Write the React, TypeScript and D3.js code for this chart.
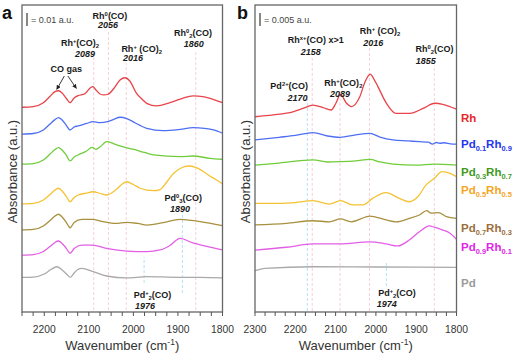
import React from "react";
import * as d3 from "d3";

type Pt = [number, number];

// ---------- Panel a data (absorbance in mAU, wavenumber in cm-1) ----------
const RH_A: Pt[] = [[2250,157.5],[2225,158],[2202,161],[2187,166],[2176,169.5],[2168,170.2],[2160,168.5],[2151,164.6],[2142,161],[2133,164.6],[2124,166.4],[2109,167.9],[2097,172.3],[2091,173.3],[2084,170.8],[2075,167.7],[2066,167],[2057,167.5],[2043,172.3],[2030,178.5],[2019,180.2],[2008,177.7],[1993,168.2],[1981,163.8],[1970,160.5],[1948,158.5],[1918,161],[1891,164.2],[1866,166.2],[1844,165.6],[1828,164.4],[1800,161]];
const PD01_A: Pt[] = [[2250,136.9],[2225,137.3],[2202,140],[2187,144.6],[2176,148],[2168,149.5],[2160,147.7],[2151,143.8],[2142,140],[2133,142.3],[2124,143.1],[2105,145],[2091,146.4],[2075,145.6],[2058,146.4],[2045,148],[2030,149.8],[2015,148.8],[2001,146.4],[1985,143.5],[1970,141.3],[1933,139.5],[1895,140.5],[1866,141.8],[1840,141.2],[1820,140],[1800,137.5]];
const PD03_A: Pt[] = [[2250,113.8],[2225,114.2],[2202,116.9],[2187,121.5],[2176,125],[2168,126.4],[2160,124.6],[2151,120.8],[2142,116.2],[2133,119.2],[2124,120.8],[2105,123.8],[2093,126.7],[2084,125.2],[2075,126.9],[2060,131],[2045,129.6],[2030,127.7],[2001,125.2],[1975,122.7],[1955,120.8],[1895,119.5],[1866,120],[1828,118.2],[1800,117.5]];
const PD05_A: Pt[] = [[2250,83.1],[2225,83.5],[2202,86.2],[2187,90.4],[2176,93.8],[2168,95.2],[2160,93.1],[2151,89.2],[2142,84.8],[2133,88.1],[2124,90],[2105,91.5],[2091,92.5],[2071,90.8],[2060,90],[2040,93.8],[2025,98.5],[2015,100.2],[2000,98.1],[1985,95.2],[1955,93.3],[1940,94.2],[1925,100],[1910,106.5],[1895,110.4],[1877,112.3],[1860,111.2],[1845,108.5],[1830,105],[1815,101.9],[1800,98.5]];
const PD07_A: Pt[] = [[2250,63.1],[2225,63.5],[2202,66.2],[2187,70.4],[2176,73.8],[2168,75.2],[2160,73.1],[2151,69.2],[2142,64.8],[2133,68.8],[2116,71.3],[2093,71.3],[2068,69.5],[2040,68.2],[2015,69],[1990,68.1],[1970,66.9],[1933,68.7],[1895,71.3],[1850,69.5],[1800,66.4]];
const PD09_A: Pt[] = [[2250,43.8],[2225,44.2],[2202,46.5],[2187,50.4],[2176,53.5],[2168,54.6],[2160,52.7],[2151,49.2],[2142,45.2],[2133,48.8],[2116,51.5],[2093,51.5],[2060,49],[2015,46.9],[1970,46.4],[1940,47.7],[1918,51.2],[1895,56.7],[1868,53.3],[1835,50.4],[1800,47.7]];
const PD_A: Pt[] = [[2250,26.7],[2225,26.9],[2200,29.2],[2185,32.7],[2172,34.8],[2160,32.3],[2150,29.2],[2142,26.7],[2133,30],[2125,32.7],[2116,33.6],[2090,31],[2060,27.7],[2015,26.2],[1970,27.2],[1900,26.7],[1850,26.7],[1800,26.2]];

// ---------- Panel b data ----------
const RH_B: Pt[] = [[2300,75.1],[2255,75.8],[2206,77],[2181,78.3],[2156,79.6],[2131,78.6],[2111,77.7],[2099,80.4],[2088,83.7],[2073,80.3],[2061,79],[2040,82.8],[2027,88.5],[2014,91.5],[2005,89.6],[1995,86.7],[1974,80.3],[1950,76.4],[1916,76.4],[1883,78.3],[1854,80.3],[1834,79.9],[1800,78]];
const PD01_B: Pt[] = [[2300,66.2],[2240,67.2],[2200,67.9],[2156,69],[2120,67.7],[2089,67.2],[2050,68.1],[2015,68.7],[1990,67.3],[1958,66.2],[1920,65.8],[1892,65.5],[1870,65.3],[1860,64.6],[1850,65.2],[1842,64.9],[1830,65.1],[1815,64.7],[1800,64.6]];
const PD03_B: Pt[] = [[2300,56.5],[2240,57.3],[2156,58.5],[2120,57.7],[2089,57.8],[2050,58.1],[2015,58.7],[1990,57.7],[1958,56.9],[1900,56.5],[1855,56.9],[1800,56.5]];
const PD05_B: Pt[] = [[2300,41.8],[2240,41.8],[2200,42.1],[2156,42.8],[2115,41.5],[2088,42.8],[2057,41.2],[2032,41.2],[2008,43.7],[1975,45.9],[1942,43.7],[1917,42.4],[1896,44.3],[1876,48.8],[1855,51.4],[1836,54],[1816,53.3],[1800,52]];
const PD07_B: Pt[] = [[2300,33.5],[2222,34.1],[2156,35.1],[2115,34.7],[2088,35.8],[2061,34.7],[2015,36.9],[1975,35.4],[1950,34.7],[1917,36],[1892,37.3],[1874,39],[1863,38],[1845,38.2],[1825,36.7],[1800,36]];
const PD09_B: Pt[] = [[2300,23.8],[2222,24.9],[2156,26.2],[2088,26.2],[2015,27],[1975,26.2],[1946,25.4],[1917,27.7],[1892,30.9],[1867,33.1],[1855,32.6],[1834,31.5],[1818,30.5],[1800,28]];
const PD_B: Pt[] = [[2300,15.9],[2275,16.8],[2156,17.4],[2000,17.3],[1800,17.2]];

const SERIES_A = [RH_A, PD01_A, PD03_A, PD05_A, PD07_A, PD09_A, PD_A];
const SERIES_B = [RH_B, PD01_B, PD03_B, PD05_B, PD07_B, PD09_B, PD_B];
const SERIES_NAMES = ["Rh", "Pd_{0.1}Rh_{0.9}", "Pd_{0.3}Rh_{0.7}", "Pd_{0.5}Rh_{0.5}", "Pd_{0.7}Rh_{0.3}", "Pd_{0.9}Rh_{0.1}", "Pd"];

const X_DOMAIN_A = [2250, 1800];
const X_DOMAIN_B = [2300, 1800];
const Y_MAX_A = 236.15; // mAU
const Y_MAX_B = 118.08;
const TICK_STEP = 25;
const TICK_LABELS_A = [2200, 2100, 2000, 1900, 1800];
const TICK_LABELS_B = [2300, 2200, 2100, 2000, 1900, 1800];
const SCALE_BAR_A = 10; // mAU = 0.01 a.u.
const SCALE_BAR_B = 5;  // mAU = 0.005 a.u.

// reference (dashed) lines: wavenumber, type, y range in mAU
const REF_A = [
  { wn: 2089, kind: "rh", y0: 1.5, y1: 196 },
  { wn: 2056, kind: "rh", y0: 1.5, y1: 217 },
  { wn: 2016, kind: "rh", y0: 1.5, y1: 191.5 },
  { wn: 1860, kind: "rh", y0: 1.5, y1: 201.5 },
  { wn: 1890, kind: "pd", y0: 14.6, y1: 76.9 },
  { wn: 1976, kind: "pd", y0: 22.3, y1: 42.3 },
];
const REF_B = [
  { wn: 2158, kind: "rh", y0: 0.4, y1: 98 },
  { wn: 2089, kind: "rh", y0: 0.4, y1: 82.3 },
  { wn: 2016, kind: "rh", y0: 0.4, y1: 102 },
  { wn: 1855, kind: "rh", y0: 0.4, y1: 95 },
  { wn: 2170, kind: "pd", y0: 0.4, y1: 82.3 },
  { wn: 1974, kind: "pd", y0: 10, y1: 19.2 },
];

// annotations: text, wavenumber (center), y in mAU (baseline), italic?
const ANN_A = [
  { t: "Rh^{0}(CO)", wn: 2052.5, v: 225.4, it: false },
  { t: "2056", wn: 2057, v: 218.1, it: true },
  { t: "Rh^{+}(CO)_{2}", wn: 2119.8, v: 204.6, it: false },
  { t: "2089", wn: 2108.6, v: 196.2, it: true },
  { t: "Rh^{+} (CO)_{2}", wn: 1981.3, v: 200, it: false },
  { t: "2016", wn: 2000.9, v: 193.1, it: true },
  { t: "Rh^{0}_{2}(CO)", wn: 1866.2, v: 212.3, it: false },
  { t: "1860", wn: 1864.6, v: 203.8, it: true },
  { t: "CO gas", wn: 2150.6, v: 184.6, it: false },
  { t: "Pd^{0}_{3}(CO)", wn: 1888, v: 85.4, it: false },
  { t: "1890", wn: 1895.4, v: 77.3, it: true },
  { t: "Pd^{+}_{2}(CO)", wn: 1957.1, v: 10.8, it: false },
  { t: "1976", wn: 1973.9, v: 2.3, it: true },
];
const ANN_B = [
  { t: "Rh^{x+}(CO) x>1", wn: 2149.1, v: 103.5, it: false },
  { t: "2158", wn: 2161.5, v: 98.8, it: true },
  { t: "Rh^{+} (CO)_{2}", wn: 1989.8, v: 106.9, it: false },
  { t: "2016", wn: 2006.5, v: 102.3, it: true },
  { t: "Rh^{0}_{2}(CO)", wn: 1854.6, v: 100, it: false },
  { t: "1855", wn: 1876.2, v: 95.4, it: true },
  { t: "Pd^{2+}(CO)", wn: 2215.1, v: 85.8, it: false },
  { t: "2170", wn: 2194.5, v: 81.2, it: true },
  { t: "Rh^{+}(CO)_{2}", wn: 2080.9, v: 86.9, it: false },
  { t: "2089", wn: 2089.1, v: 82.7, it: true },
  { t: "Pd^{+}_{2}(CO)", wn: 1947.6, v: 6.2, it: false },
  { t: "1974", wn: 1973.2, v: 1.9, it: true },
];
// CO gas arrows (wavenumber, mAU) from -> to
const ARROWS_A = [
  { from: [2155, 181.5], to: [2172, 171.3] },
  { from: [2147, 181.5], to: [2128, 172] },
];

// ---------- styles / layout ----------
const FONT = "'Liberation Sans', Arial, Helvetica, sans-serif";
const CURVE_COLORS = ["#e8444a", "#4f6ff2", "#6fcd3c", "#f4c232", "#a8903f", "#e35ee6", "#a9a9a9"];
const LABEL_COLORS = ["#e8262a", "#2236ee", "#3f9a1f", "#f5a524", "#9b6e3b", "#e024e6", "#9a9a9a"];
const LEGEND_Y = [122, 148, 176, 194, 232, 251, 287];
const REF_COLORS: Record<string, string> = { rh: "#f6c3cc", pd: "#9fdcf3" };

const FRAME_A = { l: 22, r: 222.5, t: 5, b: 312 };
const FRAME_B = { l: 255, r: 456.5, t: 5, b: 312 };

function parseRich(s: string) {
  const out: { k: string; t: string }[] = [];
  const re = /(\^\{[^}]*\}|_\{[^}]*\})/g;
  let last = 0;
  let m: RegExpExecArray | null;
  while ((m = re.exec(s))) {
    if (m.index > last) out.push({ k: "n", t: s.slice(last, m.index) });
    out.push({ k: m[0][0] === "^" ? "sup" : "sub", t: m[0].slice(2, -1) });
    last = m.index + m[0].length;
  }
  if (last < s.length) out.push({ k: "n", t: s.slice(last) });
  return out;
}

function Rich(props: any) {
  const { x, y, text, size, weight, italic, fill, anchor } = props;
  const parts = parseRich(text);
  return (
    <text
      x={x}
      y={y}
      fontSize={size}
      fontWeight={weight}
      fontStyle={italic ? "italic" : "normal"}
      fill={fill}
      textAnchor={anchor}
      fontFamily={FONT}
      style={{ whiteSpace: "pre" }}
    >
      {parts.map((p, i) =>
        p.k === "n" ? (
          <tspan key={i}>{p.t}</tspan>
        ) : (
          <tspan key={i} fontSize={size * 0.65} baselineShift={p.k === "sup" ? size * 0.38 : -size * 0.22}>
            {p.t}
          </tspan>
        )
      )}
    </text>
  );
}

function Panel(props: any) {
  const { frame, xDomain, yMax, series, refs, anns, tickLabels, scaleBar, scaleText, letter, letterX, yTitleX, arrows } = props;
  const x = d3.scaleLinear().domain(xDomain).range([frame.l, frame.r]);
  const y = d3.scaleLinear().domain([0, yMax]).range([frame.b, frame.t]);
  const line = d3
    .line<Pt>()
    .x((d) => x(d[0]))
    .y((d) => y(d[1]))
    .curve(d3.curveMonotoneX);
  const ticks = d3.range(xDomain[1], xDomain[0] + 0.1, TICK_STEP);
  const barTop = frame.t + 8;
  const barBottom = barTop + (y(0) - y(scaleBar));
  return (
    <g>
      {refs.map((r: any, i: number) => (
        <line
          key={"r" + i}
          x1={x(r.wn)}
          x2={x(r.wn)}
          y1={y(r.y0)}
          y2={y(r.y1)}
          stroke={REF_COLORS[r.kind]}
          strokeWidth={0.8}
          strokeDasharray="3,2"
        />
      ))}
      {series.map((s: Pt[], i: number) => (
        <path key={"s" + i} d={line(s) || ""} fill="none" stroke={CURVE_COLORS[i]} strokeWidth={1.3} strokeLinejoin="round" />
      ))}
      {anns.map((a: any, i: number) => (
        <Rich key={"a" + i} x={x(a.wn)} y={y(a.v)} text={a.t} size={9} weight="bold" italic={a.it} fill="#1a1a1a" anchor="middle" />
      ))}
      {arrows &&
        arrows.map((a: any, i: number) => (
          <line
            key={"ar" + i}
            x1={x(a.from[0])}
            y1={y(a.from[1])}
            x2={x(a.to[0])}
            y2={y(a.to[1])}
            stroke="#222"
            strokeWidth={0.9}
            markerEnd="url(#arrowhead)"
          />
        ))}
      <rect x={frame.l} y={frame.t} width={frame.r - frame.l} height={frame.b - frame.t} fill="none" stroke="#666" strokeWidth={1.3} />
      {ticks.map((t: number) => (
        <line key={"t" + t} x1={x(t)} x2={x(t)} y1={frame.b} y2={frame.b + 4} stroke="#555" strokeWidth={1} />
      ))}
      {tickLabels.map((t: number) => (
        <text key={"tl" + t} x={x(t)} y={frame.b + 21} fontSize={10.3} textAnchor="middle" fill="#333" fontFamily={FONT}>
          {t}
        </text>
      ))}
      <text x={(frame.l + frame.r) / 2} y={frame.b + 38} fontSize={13} textAnchor="middle" fill="#333" fontFamily={FONT}>
        Wavenumber (cm
        <tspan fontSize={8.5} baselineShift={5}>-1</tspan>
        <tspan>)</tspan>
      </text>
      <text
        transform={`translate(${yTitleX},${(frame.t + frame.b) / 2 + 13}) rotate(-90)`}
        fontSize={13}
        textAnchor="middle"
        fill="#333"
        fontFamily={FONT}
      >
        Absorbance (a.u.)
      </text>
      <line x1={frame.l + 5} x2={frame.l + 5} y1={barTop} y2={barBottom} stroke="#555" strokeWidth={1.4} />
      <text x={frame.l + 9} y={barTop + 10} fontSize={9} fill="#444" fontFamily={FONT}>
        {scaleText}
      </text>
      <text x={letterX} y={19} fontSize={18} fontWeight="bold" fill="#111" fontFamily={FONT}>
        {letter}
      </text>
    </g>
  );
}

export default function App() {
  return (
    <svg width={521} height={358} style={{ position: "absolute", left: 0, top: 0, background: "#fff" }}>
      <defs>
        <marker id="arrowhead" viewBox="0 0 10 10" refX="9" refY="5" markerWidth="5" markerHeight="5" orient="auto">
          <path d="M0,0 L10,5 L0,10 z" fill="#222" />
        </marker>
      </defs>
      <rect width={521} height={358} fill="#fff" />
      <Panel
        frame={FRAME_A}
        xDomain={X_DOMAIN_A}
        yMax={Y_MAX_A}
        series={SERIES_A}
        refs={REF_A}
        anns={ANN_A}
        tickLabels={TICK_LABELS_A}
        scaleBar={SCALE_BAR_A}
        scaleText="= 0.01 a.u."
        letter="a"
        letterX={2}
        yTitleX={17}
        arrows={ARROWS_A}
      />
      <Panel
        frame={FRAME_B}
        xDomain={X_DOMAIN_B}
        yMax={Y_MAX_B}
        series={SERIES_B}
        refs={REF_B}
        anns={ANN_B}
        tickLabels={TICK_LABELS_B}
        scaleBar={SCALE_BAR_B}
        scaleText="= 0.005 a.u."
        letter="b"
        letterX={237}
        yTitleX={250}
      />
      {SERIES_NAMES.map((n, i) => (
        <Rich key={n} x={461} y={LEGEND_Y[i]} text={n} size={11.5} weight="bold" fill={LABEL_COLORS[i]} anchor="start" />
      ))}
    </svg>
  );
}
